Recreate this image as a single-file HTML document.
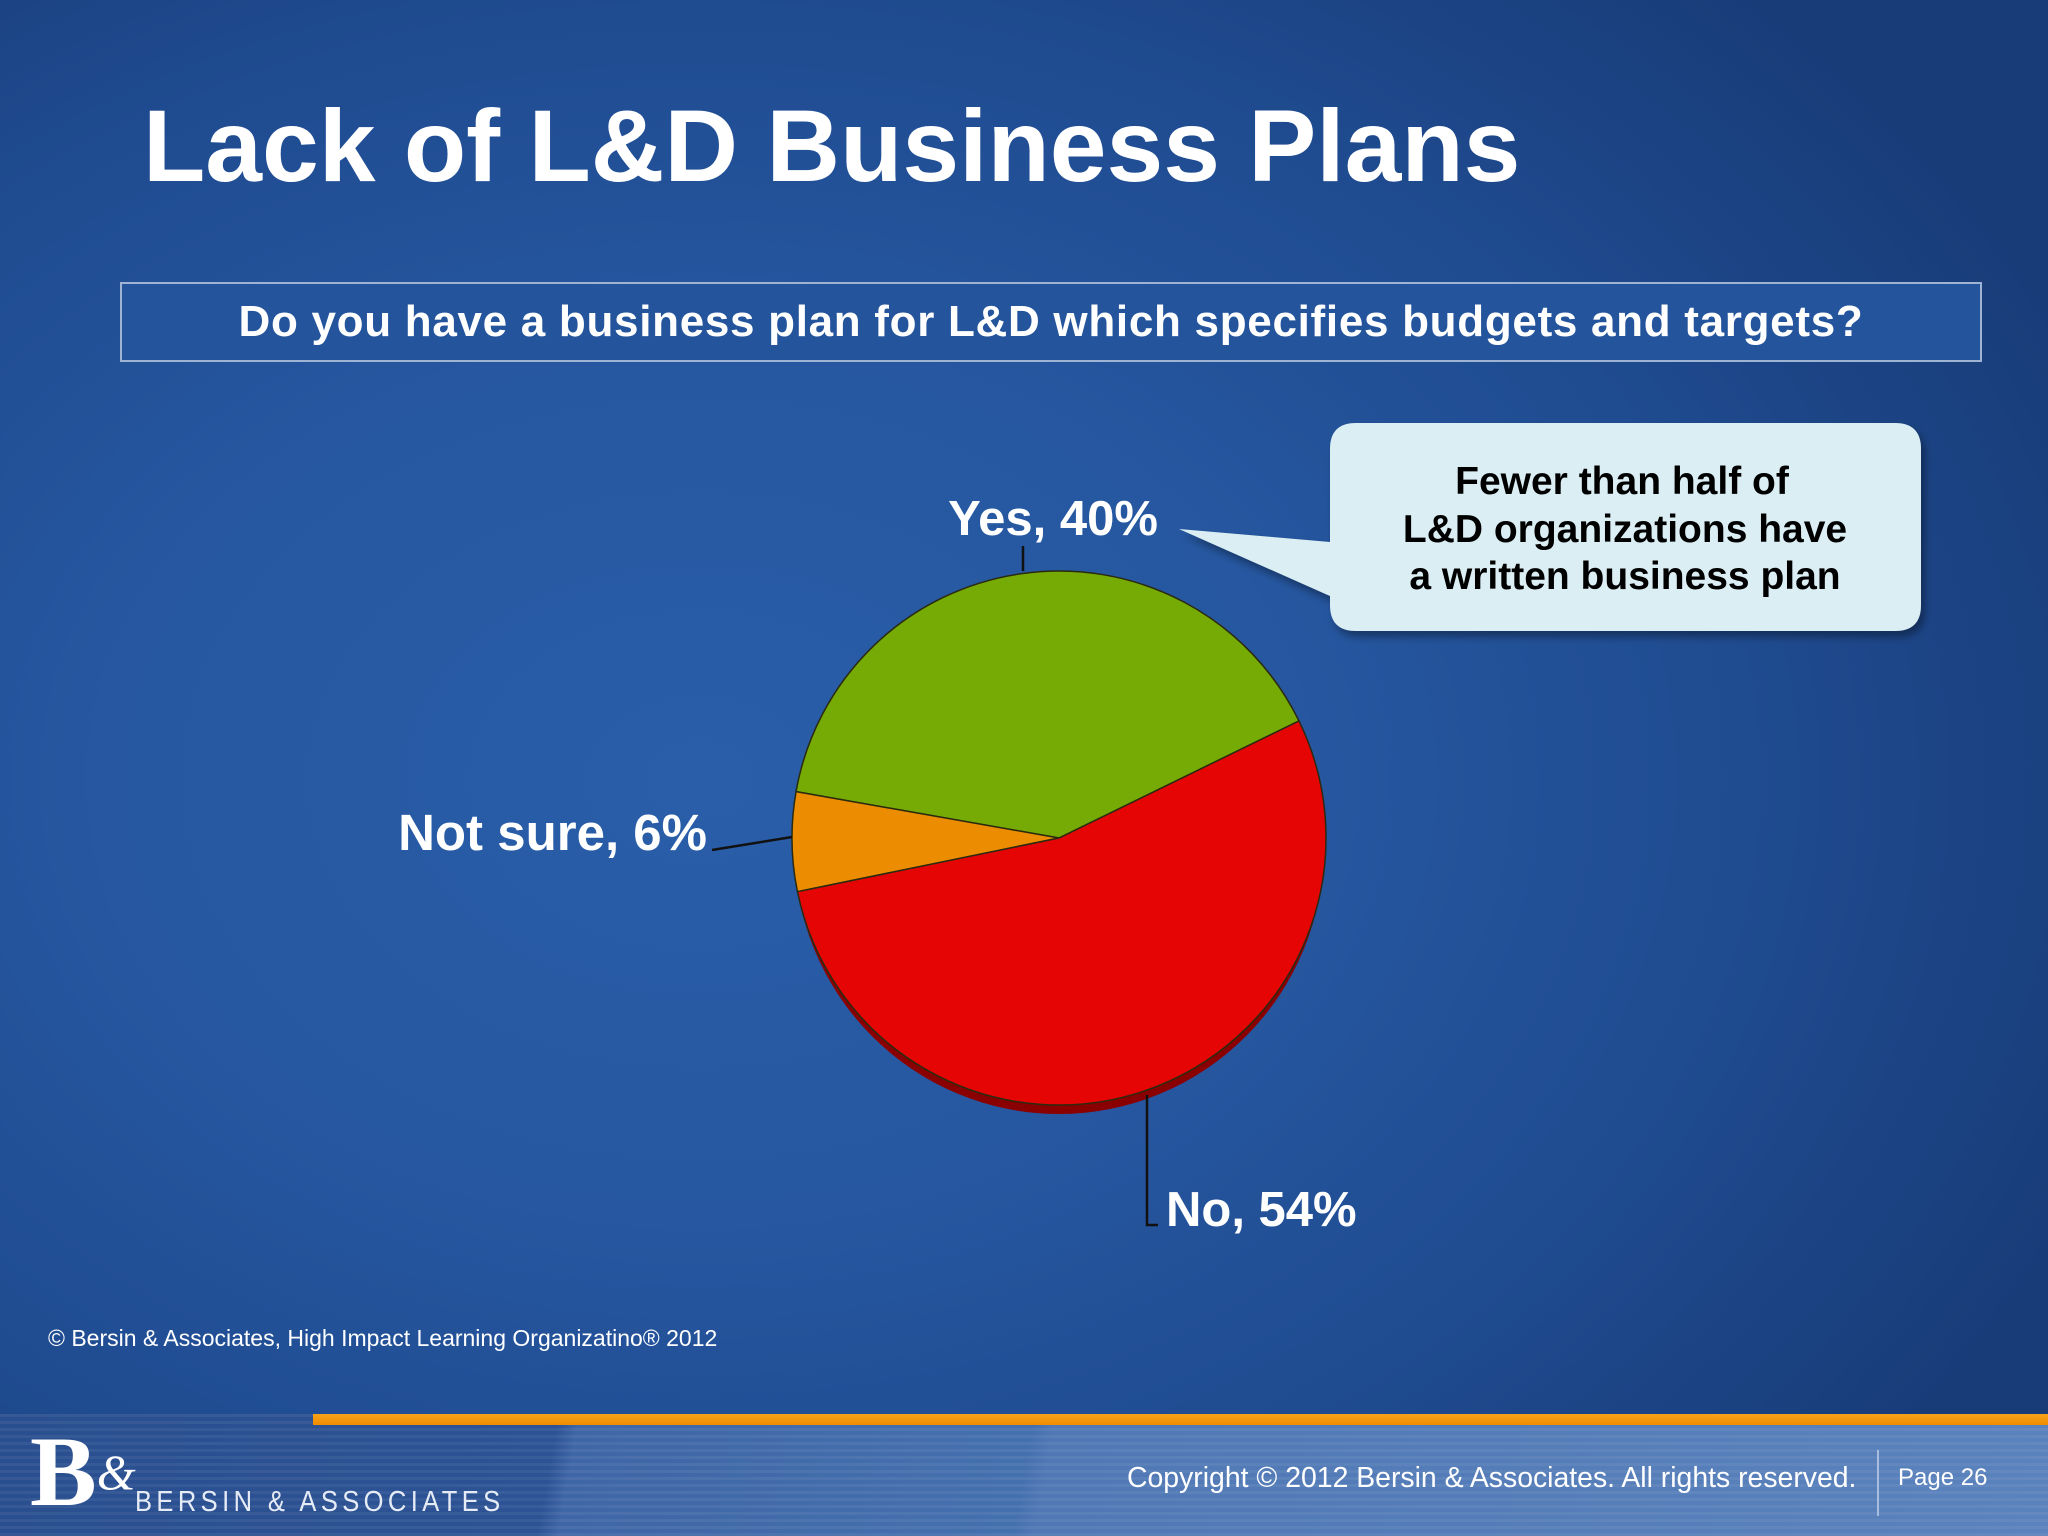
<!DOCTYPE html>
<html><head><meta charset="utf-8">
<style>
html,body{margin:0;padding:0}
body{width:2048px;height:1536px;position:relative;overflow:hidden;font-family:"Liberation Sans",Arial,sans-serif;
background:radial-gradient(ellipse 1500px 1100px at 700px 780px,#2a5ea9 0%,#2657a0 40%,#1f4b90 70%,#183c78 100%);}
.abs{position:absolute}
</style></head>
<body>
<div class="abs" style="left:143px;top:88px;font-size:102px;font-weight:bold;color:#fff;white-space:nowrap">Lack of L&amp;D Business Plans</div>
<div class="abs" style="left:120px;top:282px;width:1858px;height:76px;border:2px solid #9fb3d3;background:#24549c;color:#fff;font-weight:bold;font-size:44px;line-height:76px;text-align:center;letter-spacing:0.7px">Do you have a business plan for L&amp;D which specifies budgets and targets?</div>

<svg class="abs" style="left:0;top:0" width="2048" height="1536">
  <defs><filter id="sh" x="-10%" y="-10%" width="130%" height="130%"><feDropShadow dx="4" dy="6" stdDeviation="4" flood-color="#000" flood-opacity="0.35"/></filter></defs>
  <g id="pie"></g>
  <path filter="url(#sh)" d="M1356,423 H1895 Q1921,423 1921,449 V605 Q1921,631 1895,631 H1356 Q1330,631 1330,605 V596 L1179,529 L1330,542 V449 Q1330,423 1356,423 Z" fill="#dbeef3"/>
  <g font-family="Liberation Sans, Arial, sans-serif" font-weight="bold" font-size="39" fill="#000" text-anchor="middle">
    <text x="1622" y="494">Fewer than half of</text>
    <text x="1625" y="542">L&amp;D organizations have</text>
    <text x="1625" y="589">a written business plan</text>
  </g>
  <g stroke="#111" stroke-width="2.5" fill="none">
    <path d="M1023,546 V571"/>
    <path d="M712,850 L792,837"/>
    <path d="M1147,1095 V1225 H1158"/>
  </g>
  <g font-family="Liberation Sans, Arial, sans-serif" font-weight="bold" font-size="49" fill="#fff">
    <text x="1053" y="535" text-anchor="middle">Yes, 40%</text>
    <text x="707" y="850" text-anchor="end" font-size="51">Not sure, 6%</text>
    <text x="1166" y="1226">No, 54%</text>
  </g>
</svg>

<div class="abs" style="left:48px;top:1325px;font-size:23px;color:#fff">© Bersin &amp; Associates, High Impact Learning Organizatino® 2012</div>

<div class="abs" style="left:0;top:1414px;width:2048px;height:122px;background:linear-gradient(100deg,#2a4f90 0%,#2d5394 27%,#3f66a6 28%,#4570ae 50%,#5078b5 51%,#5a82bc 100%)">
  <div class="abs" style="left:0;top:0;width:2048px;height:122px;background:repeating-linear-gradient(180deg,rgba(255,255,255,0.06) 0 3px,rgba(0,0,0,0) 3px 7px)"></div>
  <div class="abs" style="left:313px;top:0;width:1735px;height:11px;background:linear-gradient(180deg,#f7a21a,#f08c00)"></div>
  <div class="abs" style="left:30px;top:8px;font-family:'Liberation Serif',serif;font-weight:bold;font-size:100px;color:#fff;line-height:100px">B<span style="font-size:50px;vertical-align:top;font-style:italic;font-weight:normal">&amp;</span></div>
  <div class="abs" style="left:135px;top:72px;font-size:29px;color:#e6ecf5;letter-spacing:5px;transform:scaleX(0.88);transform-origin:left">BERSIN &amp; ASSOCIATES</div>
  <div class="abs" style="left:1127px;top:48px;font-size:28.4px;color:#fff;white-space:nowrap">Copyright © 2012 Bersin &amp; Associates. All rights reserved.</div>
  <div class="abs" style="left:1877px;top:36px;width:2px;height:66px;background:#a9bede"></div>
  <div class="abs" style="left:1898px;top:50px;font-size:24px;color:#fff">Page 26</div>
</div>

<script>
const categories = ["Yes", "Not sure", "No"];
const values = [40, 6, 54];
const colors = ["#76ab05", "#ec8c00", "#e60505"];
const startAngle = 26;
(function(){
  const cx = 1059, cy = 838, r = 267;
  const g = document.getElementById('pie');
  const ns = 'http://www.w3.org/2000/svg';
  const total = values.reduce((a,b)=>a+b,0);
  const sh = document.createElementNS(ns,'ellipse');
  sh.setAttribute('cx', cx); sh.setAttribute('cy', cy+9); sh.setAttribute('rx', r-2); sh.setAttribute('ry', r);
  sh.setAttribute('fill', '#8a0000');
  
  
  g.appendChild(sh);
  const pt = a => [cx + r*Math.cos(a*Math.PI/180), cy - r*Math.sin(a*Math.PI/180)];
  let a0 = startAngle;
  values.forEach((v,i)=>{
    const sweep = v/total*360, a1 = a0 + sweep;
    const p0 = pt(a0), p1 = pt(a1);
    const large = sweep > 180 ? 1 : 0;
    const p = document.createElementNS(ns,'path');
    p.setAttribute('d', `M${cx},${cy} L${p0[0]},${p0[1]} A${r},${r} 0 ${large} 0 ${p1[0]},${p1[1]} Z`);
    p.setAttribute('fill', colors[i]);
    p.setAttribute('stroke', '#2a2a10');
    p.setAttribute('stroke-width', '1.5');
    
    
    g.appendChild(p);
    a0 = a1;
  });
})();
</script>
</body></html>
